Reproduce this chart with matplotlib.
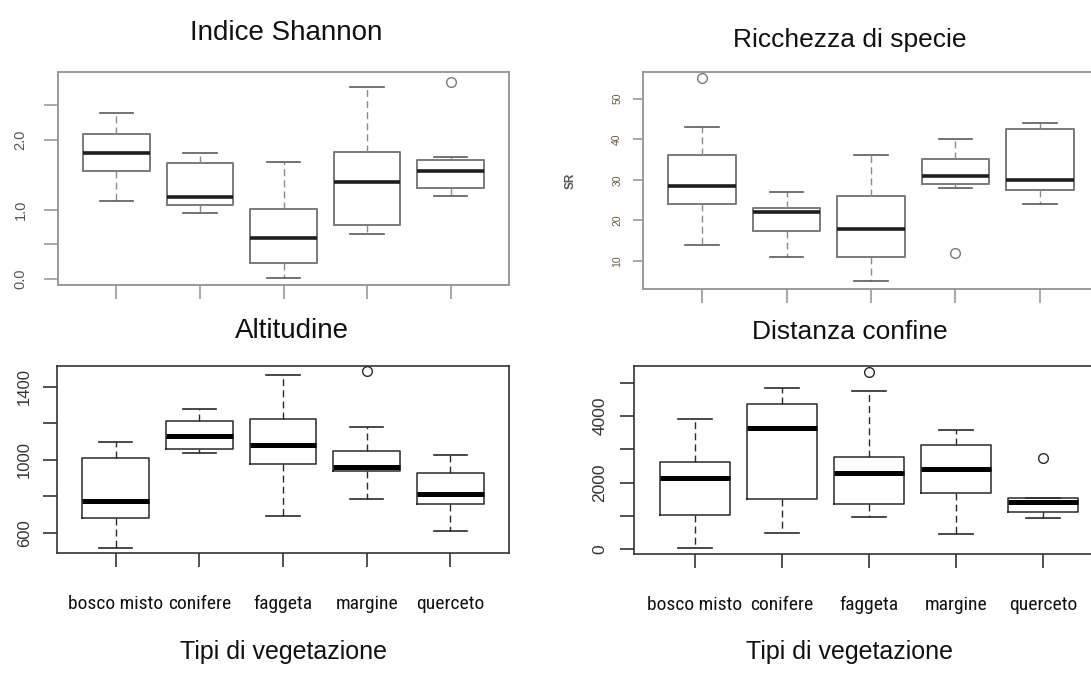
import matplotlib
matplotlib.use("Agg")
import matplotlib.pyplot as plt
from matplotlib import font_manager

# ---------------- data ----------------
categories = ["bosco misto", "conifere", "faggeta", "margine", "querceto"]

# each: whisker low, Q1, median, Q3, whisker high
shannon_lo = [1.12, 0.95, 0.01, 0.65, 1.19]
shannon_q1 = [1.55, 1.06, 0.23, 0.77, 1.31]
shannon_med = [1.82, 1.18, 0.59, 1.40, 1.56]
shannon_q3 = [2.08, 1.67, 1.01, 1.83, 1.71]
shannon_hi = [2.39, 1.81, 1.68, 2.76, 1.75]
shannon_out = [[], [], [], [], [2.84]]

sr_lo = [14, 11, 5, 28, 24]
sr_q1 = [24, 17.5, 11, 29, 27.5]
sr_med = [28.5, 22, 18, 31, 30]
sr_q3 = [36, 23, 26, 35, 42.5]
sr_hi = [43, 27, 36, 40, 44]
sr_out = [[55], [], [], [12], []]

alt_lo = [519, 1037, 694, 785, 613]
alt_q1 = [684, 1059, 978, 938, 758]
alt_med = [774, 1134, 1084, 961, 811]
alt_q3 = [1009, 1216, 1222, 1050, 930]
alt_hi = [1101, 1281, 1468, 1180, 1027]
alt_out = [[], [], [], [1486], []]

dist_lo = [20, 495, 970, 465, 930]
dist_q1 = [1010, 1515, 1364, 1677, 1110]
dist_med = [2131, 3636, 2283, 2404, 1414]
dist_q3 = [2626, 4354, 2778, 3131, 1530]
dist_hi = [3919, 4828, 4747, 3576, 1530]
dist_out = [[], [], [5333], [], [2737]]

titles = ["Indice Shannon", "Ricchezza di specie", "Altitudine", "Distanza confine"]
xlabel_text = "Tipi di vegetazione"

# ---------------- fonts ----------------
avail = {f.name for f in font_manager.fontManager.ttflist}
main_font = "Liberation Sans" if "Liberation Sans" in avail else "DejaVu Sans"
narrow_font = main_font
for cand in ["Liberation Sans Narrow", "DejaVu Sans Condensed", "Roboto Condensed", "Open Sans Condensed"]:
    if cand in avail:
        narrow_font = cand
        break
plt.rcParams["font.family"] = [main_font, "DejaVu Sans"]

W, H = 1091, 677
fig = plt.figure(figsize=(W / 100, H / 100), dpi=100)


def rect(x0, y0, x1, y1):
    return [x0 / W, 1 - y1 / H, (x1 - x0) / W, (y1 - y0) / H]


def stats(lo, q1, med, q3, hi, out):
    return [dict(whislo=a, q1=b, med=c, q3=d, whishi=e, fliers=f)
            for a, b, c, d, e, f in zip(lo, q1, med, q3, hi, out)]


def draw(ax, st, faded):
    if faded:
        box_c, med_c, wh_c, cap_c, sp_c = "#7a7a7a", "#1e1e1e", "#8a8a8a", "#5a5a5a", "#9a9a9a"
        lw_box, lw_med = 1.4, 2.6
    else:
        box_c, med_c, wh_c, cap_c, sp_c = "#2a2a2a", "#000000", "#2a2a2a", "#2a2a2a", "#333333"
        lw_box, lw_med = 1.1, 3.6
    ax.bxp(st, positions=range(1, len(st) + 1), widths=0.8, capwidths=0.4,
           boxprops=dict(color=box_c, linewidth=lw_box),
           medianprops=dict(color=med_c, linewidth=lw_med, solid_capstyle="butt"),
           whiskerprops=dict(color=wh_c, linewidth=1.0, linestyle=(0, (5, 3))),
           capprops=dict(color=cap_c, linewidth=1.2),
           flierprops=dict(marker="o", markerfacecolor="none", markeredgecolor=box_c,
                           markersize=7, markeredgewidth=1.0),
           showfliers=True)
    ax.set_xlim(0.3, 5.7)
    for s in ax.spines.values():
        s.set_color(sp_c)
        s.set_linewidth(1.4 if faded else 1.2)
    ax.tick_params(axis="both", colors=sp_c, length=10, width=1.2)
    ax.set_xticks(range(1, 6))


# Panel 1: Indice Shannon
ax1 = fig.add_axes(rect(58, 72, 509, 285))
draw(ax1, stats(shannon_lo, shannon_q1, shannon_med, shannon_q3, shannon_hi, shannon_out), True)
ax1.set_ylim(-0.086, 2.978)
ax1.set_yticks([0.0, 0.5, 1.0, 2.0, 2.5])
ax1.set_yticklabels(["0.0", "", "1.0", "2.0", ""])
ax1.set_xticklabels([])
ax1.tick_params(axis="y", labelrotation=90, labelsize=10.5, labelcolor="#555555", pad=12)
for lab in ax1.get_yticklabels():
    lab.set_verticalalignment("center")

# Panel 2: Ricchezza di specie
ax2 = fig.add_axes(rect(643, 72, 1099, 289))
draw(ax2, stats(sr_lo, sr_q1, sr_med, sr_q3, sr_hi, sr_out), True)
ax2.set_ylim(3.1, 56.55)
ax2.set_yticks([10, 20, 30, 40, 50])
ax2.set_xticklabels([])
ax2.tick_params(axis="y", labelrotation=90, labelsize=7.5, labelcolor="#6a5a40", pad=8, length=7)
for lab in ax2.get_yticklabels():
    lab.set_verticalalignment("center")
ax2.set_ylabel("SR", fontsize=8.5, color="#555555", fontweight="bold")
ax2.yaxis.set_label_coords((577 - 643) / 456, 0.5)

# Panel 3: Altitudine
ax3 = fig.add_axes(rect(57, 366, 509, 553))
draw(ax3, stats(alt_lo, alt_q1, alt_med, alt_q3, alt_hi, alt_out), False)
ax3.set_ylim(490, 1515)
ax3.set_yticks([600, 800, 1000, 1200, 1400])
ax3.set_yticklabels(["600", "", "1000", "", "1400"])
ax3.tick_params(axis="y", labelrotation=90, labelsize=12, labelcolor="#333333", pad=8)
for lab in ax3.get_yticklabels():
    lab.set_verticalalignment("center")
ax3.set_xticklabels(categories, fontfamily=narrow_font, fontsize=14, color="#111111")
ax3.tick_params(axis="x", pad=20)

# Panel 4: Distanza confine
ax4 = fig.add_axes(rect(634, 366, 1104, 554))
draw(ax4, stats(dist_lo, dist_q1, dist_med, dist_q3, dist_hi, dist_out), False)
ax4.set_ylim(-150, 5504)
ax4.set_yticks([0, 1000, 2000, 3000, 4000, 5000])
ax4.set_yticklabels(["0", "", "2000", "", "4000", ""])
ax4.tick_params(axis="y", labelrotation=90, labelsize=12.5, labelcolor="#333333", pad=9)
for lab in ax4.get_yticklabels():
    lab.set_verticalalignment("center")
ax4.set_xticklabels(categories, fontfamily=narrow_font, fontsize=14, color="#111111")
ax4.tick_params(axis="x", pad=20)

# Titles and bottom labels (placed like the pasted document text)
fig.text(286 / W, 1 - 33 / H, titles[0], ha="center", va="center", fontsize=20, color="#111111")
fig.text(850 / W, 1 - 40 / H, titles[1], ha="center", va="center", fontsize=19, color="#111111")
fig.text(292 / W, 1 - 331 / H, titles[2], ha="center", va="center", fontsize=20, color="#111111")
fig.text(850 / W, 1 - 332 / H, titles[3], ha="center", va="center", fontsize=19, color="#111111")
fig.text(284 / W, 1 - 652 / H, xlabel_text, ha="center", va="center", fontsize=18, color="#111111")
fig.text(850 / W, 1 - 652 / H, xlabel_text, ha="center", va="center", fontsize=18, color="#111111")

fig.savefig("out.png", dpi=100, facecolor="white")
